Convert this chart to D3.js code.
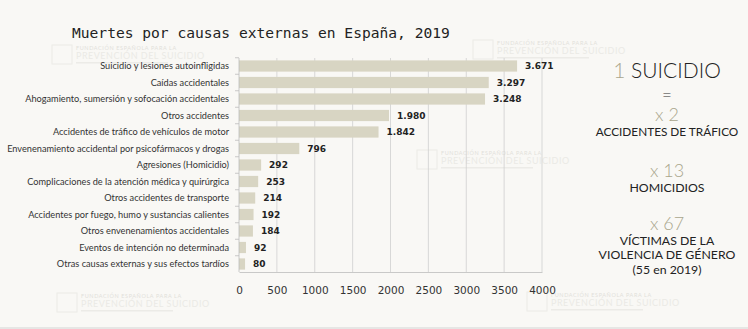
<!DOCTYPE html>
<html>
<head>
<meta charset="utf-8">
<script src="https://cdn.jsdelivr.net/npm/d3@7"></script>
<style>
  body { margin: 0; background: #f9f8f5; }
  svg { display: block; }
  .catLabel { font-family: Lato, sans-serif; font-size: 9.2px; fill: #333; }
  .valLabel { font-family: "DejaVu Sans", sans-serif; font-weight: bold; font-size: 9px; fill: #222; }
  .xAxis text { font-family: "DejaVu Sans", sans-serif; font-size: 10.5px; fill: #333; }
  .side { font-family: Lato, sans-serif; text-anchor: middle; }
</style>
</head>
<body>
<div id="chart"></div>
<script>
var causes = [
  "Suicidio y lesiones autoinfligidas",
  "Caídas accidentales",
  "Ahogamiento, sumersión y sofocación accidentales",
  "Otros accidentes",
  "Accidentes de tráfico de vehículos de motor",
  "Envenenamiento accidental por psicofármacos y drogas",
  "Agresiones (Homicidio)",
  "Complicaciones de la atención médica y quirúrgica",
  "Otros accidentes de transporte",
  "Accidentes por fuego, humo y sustancias calientes",
  "Otros envenenamientos accidentales",
  "Eventos de intención no determinada",
  "Otras causas externas y sus efectos tardíos"
];
var deaths = [3671, 3297, 3248, 1980, 1842, 796, 292, 253, 214, 192, 184, 92, 80];
var xTicks = [0, 500, 1000, 1500, 2000, 2500, 3000, 3500, 4000];
var title = "Muertes por causas externas en España, 2019";

var width = 748;
var height = 329;

var svg = d3.select("#chart")
  .append("svg")
  .attr("width", width)
  .attr("height", height);

svg.append("rect").attr("width", width).attr("height", height).attr("fill", "#f9f8f5");
svg.append("rect").attr("y", 327).attr("width", width).attr("height", 2).attr("fill", "#e6e6e4");

// faint foundation watermarks
function watermark(x, y) {
  var g = svg.append("g").attr("transform", "translate(" + x + "," + y + ")").attr("opacity", 0.55);
  g.append("rect").attr("x", 0).attr("y", 0).attr("width", 20).attr("height", 19)
    .attr("fill", "none").attr("stroke", "#e2e1dc").attr("stroke-width", 1);
  g.append("text").attr("x", 24).attr("y", 5).text("FUNDACIÓN ESPAÑOLA PARA LA")
    .attr("font-family", "Lato, sans-serif").attr("font-size", 5.5).attr("fill", "#cfcdc6")
    .attr("letter-spacing", 0.6);
  g.append("text").attr("x", 24).attr("y", 14).text("PREVENCIÓN DEL SUICIDIO")
    .attr("font-family", "Lato, sans-serif").attr("font-size", 9).attr("fill", "#e0dfd9")
    .attr("letter-spacing", 0.5);
  g.append("rect").attr("x", 24).attr("y", 17).attr("width", 92).attr("height", 1.5).attr("fill", "#e3e2dd");
}
watermark(52, 45);
watermark(473, 40);
watermark(417, 150);
watermark(57, 293);
watermark(527, 292);

svg.append("text")
  .attr("x", 72)
  .attr("y", 38)
  .attr("font-family", "'DejaVu Sans Mono', monospace")
  .attr("font-size", 14.6)
  .attr("fill", "#222")
  .text(title);

var xScale = d3.scaleLinear().domain([0, 4000]).range([239, 542]);
var yScale = d3.scaleBand().domain(causes).range([57.75, 272.25])
  .paddingInner(0.32).paddingOuter(0.16);

// gridlines
svg.append("g")
  .selectAll("line")
  .data(xTicks.slice(1))
  .enter()
  .append("line")
  .attr("x1", function(d) { return xScale(d); })
  .attr("x2", function(d) { return xScale(d); })
  .attr("y1", 58)
  .attr("y2", 272)
  .attr("stroke", "#cfcfcf")
  .attr("stroke-width", 0.8);

svg.append("g")
  .selectAll("rect")
  .data(deaths)
  .enter()
  .append("rect")
  .attr("x", xScale(0))
  .attr("y", function(d, i) { return yScale(causes[i]); })
  .attr("width", function(d) { return xScale(d) - xScale(0); })
  .attr("height", yScale.bandwidth())
  .attr("fill", "#d8d5c3");

var fmt = d3.formatLocale({ decimal: ",", thousands: ".", grouping: [3], currency: ["", "€"] }).format(",");

svg.append("g")
  .selectAll("text")
  .data(deaths)
  .enter()
  .append("text")
  .attr("class", "valLabel")
  .attr("x", function(d) { return xScale(d) + 8; })
  .attr("y", function(d, i) { return yScale(causes[i]) + yScale.bandwidth() / 2; })
  .attr("dy", "0.35em")
  .text(function(d) { return d >= 1000 ? fmt(d) : d; });

svg.append("g")
  .selectAll("text")
  .data(causes)
  .enter()
  .append("text")
  .attr("class", "catLabel")
  .attr("x", 229)
  .attr("y", function(d) { return yScale(d) + yScale.bandwidth() / 2; })
  .attr("dy", "0.35em")
  .attr("text-anchor", "end")
  .text(function(d) { return d; });

// y axis line with ticks between bands
var yAxisG = svg.append("g");
yAxisG.append("line")
  .attr("x1", 239).attr("x2", 239).attr("y1", 58).attr("y2", 272)
  .attr("stroke", "#bdbdbd").attr("stroke-width", 0.8);
yAxisG.selectAll("line.tk")
  .data(causes)
  .enter()
  .append("line")
  .attr("class", "tk")
  .attr("x1", 235).attr("x2", 239)
  .attr("y1", function(d) { return yScale(d) - yScale.step() * yScale.paddingInner() / 2; })
  .attr("y2", function(d) { return yScale(d) - yScale.step() * yScale.paddingInner() / 2; })
  .attr("stroke", "#bdbdbd").attr("stroke-width", 0.8);

var xAxis = d3.axisBottom(xScale).tickValues(xTicks).tickSize(0).tickPadding(15).tickFormat(d3.format("d"));
svg.append("g")
  .attr("class", "xAxis")
  .attr("transform", "translate(0,272)")
  .call(xAxis)
  .call(function(g) { g.select(".domain").attr("stroke", "#bdbdbd").attr("stroke-width", 0.8); });

// right-hand comparison panel
var cx = 667;
var side = svg.append("g").attr("class", "side");
var t1 = side.append("text").attr("x", cx).attr("y", 78).attr("font-size", 21).attr("font-weight", 300).attr("fill", "#222");
t1.append("tspan").attr("fill", "#a9a68c").text("1 ");
t1.append("tspan").text("SUICIDIO");
side.append("text").attr("x", cx).attr("y", 101).attr("font-size", 17).attr("font-weight", 300).attr("fill", "#333").text("=");

var rows = [
  { mult: "x 2", y: 121, lines: ["ACCIDENTES DE TRÁFICO"], ly: 136 },
  { mult: "x 13", y: 177, lines: ["HOMICIDIOS"], ly: 192 },
  { mult: "x 67", y: 230, lines: ["VÍCTIMAS DE LA", "VIOLENCIA DE GÉNERO", "(55 en 2019)"], ly: 245 }
];
rows.forEach(function(r) {
  side.append("text").attr("x", cx).attr("y", r.y).attr("font-size", 18).attr("font-weight", 300)
    .attr("fill", "#a9a68c").text(r.mult);
  r.lines.forEach(function(l, j) {
    side.append("text").attr("x", cx).attr("y", r.ly + j * 14.3)
      .attr("font-size", l.length > 20 ? 11.8 : 12.3)
      .attr("fill", "#222").text(l);
  });
});
</script>
</body>
</html>
